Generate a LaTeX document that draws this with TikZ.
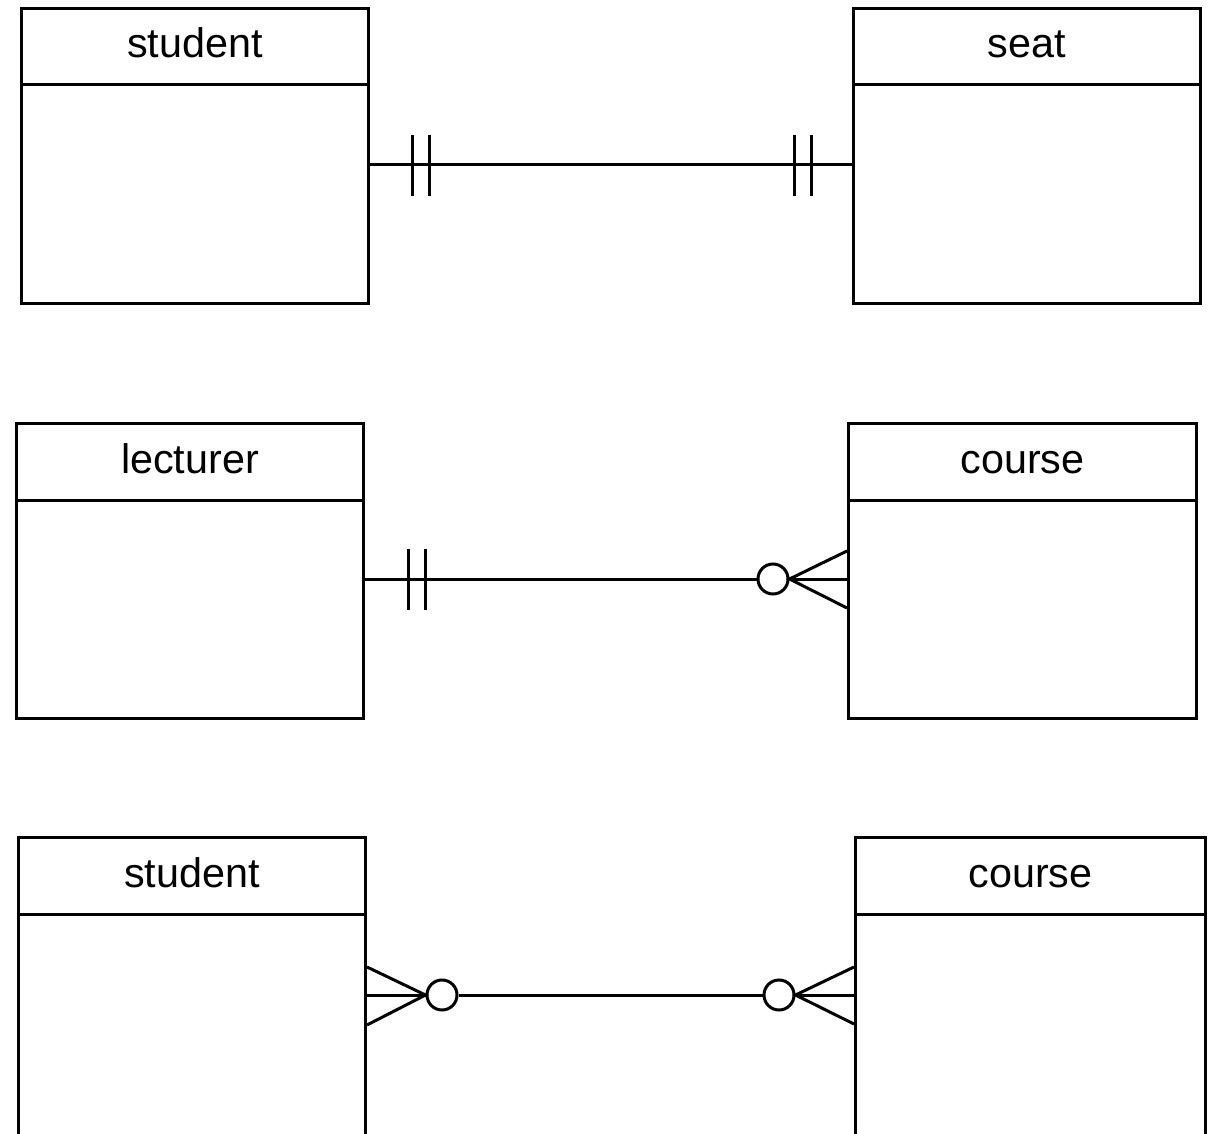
\documentclass[tikz,border=0pt]{standalone}
\usepackage{fontspec}
\setmainfont{Liberation Sans}
\usetikzlibrary{calc}
\begin{document}
\begin{tikzpicture}[x=0.75pt,y=-0.75pt,
  line width=2.25pt,
  entity/.style={draw, line width=2.25pt, rectangle, inner sep=0pt, anchor=north west,
    minimum width=260.25pt, minimum height=221.25pt},
  entitytall/.style={entity, minimum height=225pt},
  title/.style={anchor=base, inner sep=0pt, font=\fontsize{31}{37}\selectfont},
  rel/.style={line width=2.25pt},
]
\useasboundingbox (0,0) rectangle (1211,1134);
\clip (0,0) rectangle (1211,1134);

% Row 1
\node[entity] (s1) at (20,7) {};
\node[entity] (e1) at (852,7) {};
% Row 2
\node[entity] (l2) at (15,422) {};
\node[entity, minimum width=261pt] (c2) at (847,422) {};
% Row 3
\node[entitytall] (s3) at (17,836) {};
\node[entitytall, minimum width=262.5pt] (c3) at (854,836) {};

% header separators and titles
\foreach \n/\t in {s1/student, e1/seat, l2/lecturer, c2/course, s3/student, c3/course}{
  \draw ($(\n.north west)+(0,78)$) -- ($(\n.north east)+(0,78)$);
  \node[title] (\n t) at ($(\n.north west)!0.5!(\n.north east)+(0,51)$) {\t};
}

% Row 1 connector: one-and-only-one both ends
\coordinate (r1a) at (s1.east |- 0,165);
\coordinate (r1b) at (e1.west |- 0,165);
\draw[rel] (r1a) -- (r1b);
\draw[rel] ($(r1a)+(42,-30)$) -- ++(0,61);
\draw[rel] ($(r1a)+(59,-30)$) -- ++(0,61);
\draw[rel] ($(r1b)+(-58,-30)$) -- ++(0,61);
\draw[rel] ($(r1b)+(-41,-30)$) -- ++(0,61);

% Row 2 connector: one-and-only-one to zero-or-many
\coordinate (r2a) at (l2.east |- 0,579);
\coordinate (r2b) at (c2.west |- 0,579);
\node[draw, circle, minimum size=22.5pt, inner sep=0pt, line width=2.25pt] (o2) at ($(r2b)+(-74,0)$) {};
\draw[rel] (r2a) -- (o2.west);
\draw[rel] (o2.east) -- (r2b);
\draw[rel] ($(r2a)+(43,-30)$) -- ++(0,61);
\draw[rel] ($(r2a)+(60,-30)$) -- ++(0,61);
\draw[rel] ($(r2b)+(0,-28)$) -- (o2.east) -- ($(r2b)+(0,29)$);

% Row 3 connector: zero-or-many both ends
\coordinate (r3a) at (s3.east |- 0,995);
\coordinate (r3b) at (c3.west |- 0,995);
\node[draw, circle, minimum size=22.5pt, inner sep=0pt, line width=2.25pt] (o3a) at ($(r3a)+(75,0)$) {};
\node[draw, circle, minimum size=22.5pt, inner sep=0pt, line width=2.25pt] (o3b) at ($(r3b)+(-75,0)$) {};
\draw[rel] (r3a) -- (o3a.west);
\draw[rel] (o3a.east) -- (o3b.west);
\draw[rel] (o3b.east) -- (r3b);
\draw[rel] ($(r3a)+(0,-28)$) -- (o3a.west) -- ($(r3a)+(0,30)$);
\draw[rel] ($(r3b)+(0,-28)$) -- (o3b.east) -- ($(r3b)+(0,29)$);
\end{tikzpicture}
\end{document}
